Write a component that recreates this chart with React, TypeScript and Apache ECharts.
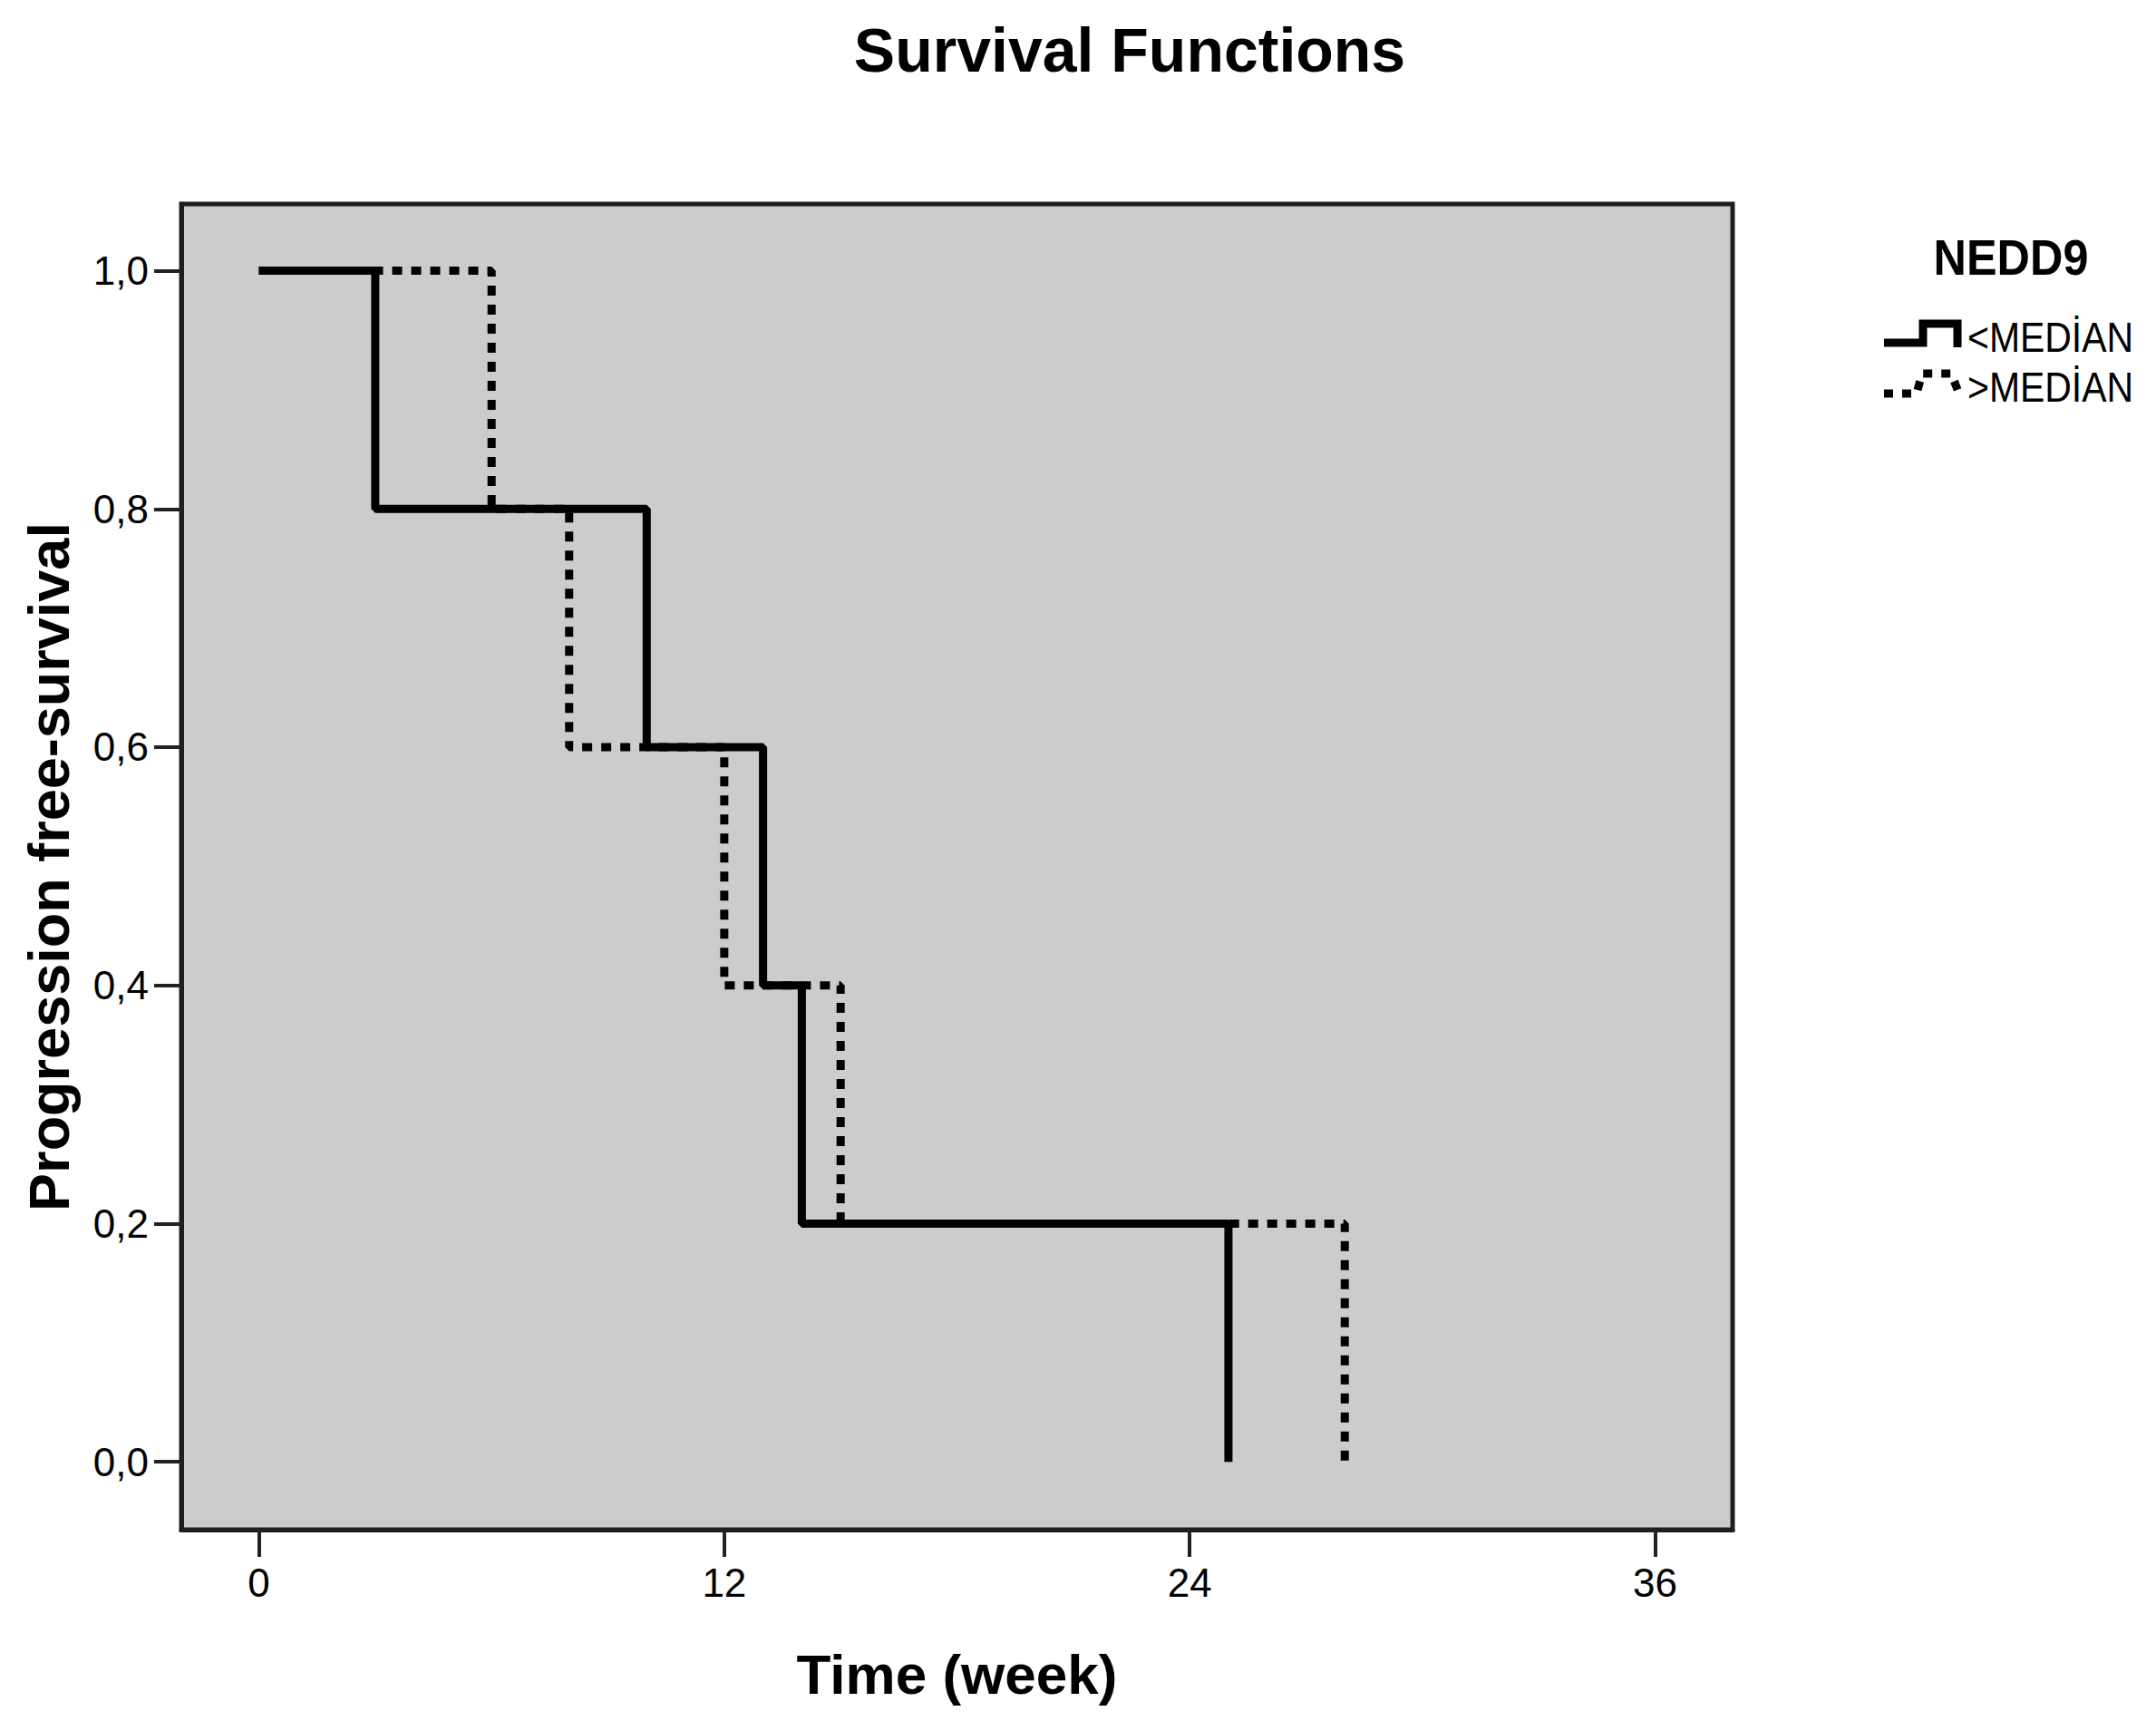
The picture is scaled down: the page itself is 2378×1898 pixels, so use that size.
import React, { useEffect, useRef } from "react";
import * as echarts from "echarts";

const xTicks = [0, 12, 24, 36];
const yTicks = [0, 0.2, 0.4, 0.6, 0.8, 1.0];
const belowTimes = [0, 3, 10, 13, 14, 25];
const belowSurv = [1, 0.8, 0.6, 0.4, 0.2, 0];
const aboveTimes = [0, 6, 8, 12, 15, 28];
const aboveSurv = [1, 0.8, 0.6, 0.4, 0.2, 0];
const seriesNames = ["<MEDİAN", ">MEDİAN"];
const legendTitle = "NEDD9";
const chartTitle = "Survival Functions";
const xName = "Time (week)";
const yName = "Progression free-survival";

const W = 2378;
const H = 1898;
const REG = "'Liberation Sans', Arial, sans-serif";

export default function App() {
  const ref = useRef<HTMLDivElement>(null);
  useEffect(() => {
    if (!ref.current) return;
    const chart = echarts.init(ref.current, null, { renderer: "svg" });
    const below = belowTimes.map((t, i) => [t, belowSurv[i]]);
    const above = aboveTimes.map((t, i) => [t, aboveSurv[i]]);
    chart.setOption({
      animation: false,
      backgroundColor: "#ffffff",
      grid: {
        left: 200,
        top: 225,
        right: W - 1911,
        bottom: H - 1687,
        show: true,
        backgroundColor: "#cccccc",
        borderColor: "#1e1e1e",
        borderWidth: 5,
      },
      xAxis: {
        type: "value",
        min: -2,
        max: 38,
        name: xName,
        nameLocation: "middle",
        nameGap: 128,
        nameTextStyle: { fontFamily: REG, fontWeight: "bold", fontSize: 62, color: "#000" },
        axisLine: { show: true, onZero: false, lineStyle: { color: "#1e1e1e", width: 5 } },
        splitLine: { show: false },
        axisTick: {
          show: true,
          inside: false,
          customValues: xTicks,
          length: 30,
          lineStyle: { color: "#222", width: 4 },
        },
        axisLabel: {
          customValues: xTicks,
          margin: 36,
          fontFamily: REG,
          fontSize: 44,
          color: "#000",
        },
      },
      yAxis: {
        type: "value",
        min: -0.057,
        max: 1.056,
        name: yName,
        nameLocation: "middle",
        nameGap: 115,
        nameTextStyle: { fontFamily: REG, fontWeight: "bold", fontSize: 63, color: "#000" },
        axisLine: { show: true, onZero: false, lineStyle: { color: "#1e1e1e", width: 5 } },
        splitLine: { show: false },
        axisTick: {
          show: true,
          inside: false,
          customValues: yTicks,
          length: 30,
          lineStyle: { color: "#222", width: 4 },
        },
        axisLabel: {
          customValues: yTicks,
          margin: 36,
          fontFamily: REG,
          fontSize: 44,
          color: "#000",
          formatter: (v: number) => v.toFixed(1).replace(".", ","),
        },
      },
      series: [
        {
          name: seriesNames[1],
          type: "line",
          step: "end",
          data: above,
          symbol: "none",
          lineStyle: { color: "#000", width: 9, type: [11, 10], cap: "butt" },
          z: 2,
        },
        {
          name: seriesNames[0],
          type: "line",
          step: "end",
          data: below,
          symbol: "none",
          lineStyle: { color: "#000", width: 9, type: "solid" },
          z: 3,
        },
      ],
      graphic: [
        {
          type: "text",
          x: 1246,
          y: 55,
          style: {
            text: chartTitle,
            fontFamily: REG,
            fontWeight: "bold",
            fontSize: 68,
            fill: "#000",
            align: "center",
            verticalAlign: "middle",
          },
        },
        {
          type: "text",
          x: 2218,
          y: 284,
          scaleX: 0.9,
          style: {
            text: legendTitle,
            fontFamily: REG,
            fontWeight: "bold",
            fontSize: 56,
            fill: "#000",
            align: "center",
            verticalAlign: "middle",
          },
        },
        {
          type: "polyline",
          shape: { points: [[2078, 378], [2121, 378], [2121, 357], [2159, 357], [2159, 383]] },
          style: { stroke: "#000", lineWidth: 9, fill: null },
        },
        {
          type: "polyline",
          shape: { points: [[2078, 434], [2114, 434], [2120, 412], [2152, 412], [2160, 432]] },
          style: { stroke: "#000", lineWidth: 9, fill: null, lineDash: [10, 10] },
        },
        {
          type: "text",
          x: 2170,
          y: 372,
          scaleX: 0.89,
          style: {
            text: seriesNames[0],
            fontFamily: REG,
            fontSize: 46,
            fill: "#000",
            align: "left",
            verticalAlign: "middle",
          },
        },
        {
          type: "text",
          x: 2170,
          y: 427,
          scaleX: 0.89,
          style: {
            text: seriesNames[1],
            fontFamily: REG,
            fontSize: 46,
            fill: "#000",
            align: "left",
            verticalAlign: "middle",
          },
        },
      ],
    });
    return () => chart.dispose();
  }, []);
  return (
    <div
      ref={ref}
      style={{ position: "fixed", left: 0, top: 0, width: W, height: H, background: "#fff" }}
    />
  );
}
